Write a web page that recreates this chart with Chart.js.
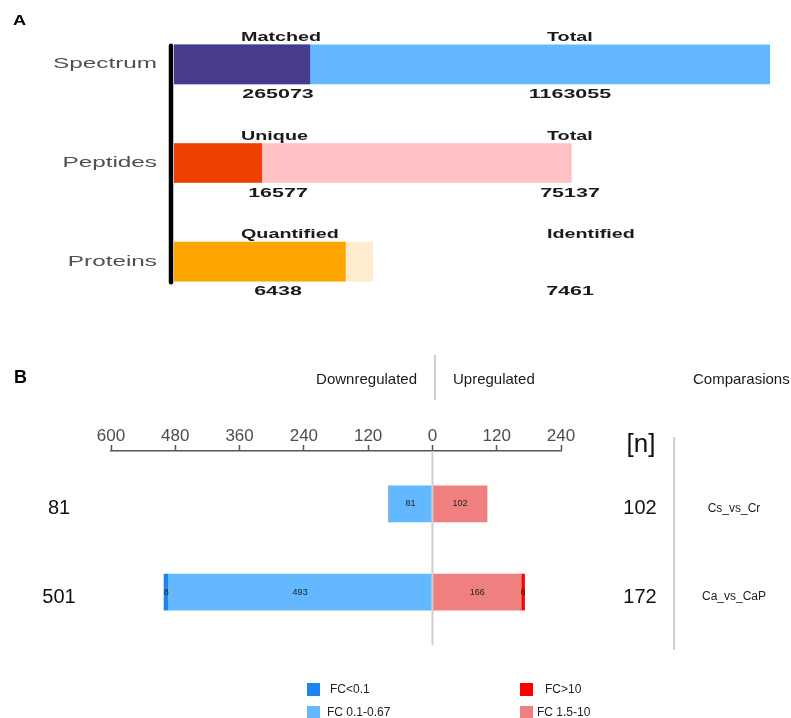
<!DOCTYPE html>
<html>
<head>
<meta charset="utf-8">
<script src="https://cdn.jsdelivr.net/npm/chart.js@4/dist/chart.umd.min.js"></script>
<style>
  html, body { margin: 0; padding: 0; background: #fff; }
  #page { position: relative; width: 791px; height: 718px; overflow: hidden; background: #fff; }
  #page canvas { position: absolute; left: 0; }
  #summary { top: 0; }
  #regulation { top: 320px; }
</style>
</head>
<body>
<div id="page">
  <canvas id="summary" width="791" height="320"></canvas>
  <canvas id="regulation" width="791" height="398"></canvas>
</div>
<script>
// ---- Panel A: identification summary ----
const summaryCategories = ['Spectrum', 'Peptides', 'Proteins'];
const subsetLabels = ['Matched', 'Unique', 'Quantified'];
const totalLabels = ['Total', 'Total', 'Identified'];
const subsetCounts = [265073, 16577, 6438];
const totalCounts = [1163055, 75137, 7461];

// ---- Panel B: differentially expressed proteins per comparison ----
const comparisons = ['Cs_vs_Cr', 'Ca_vs_CaP'];
const downStrong = [0, 8];        // FC<0.1
const downModerate = [81, 493];   // FC 0.1-0.67
const upModerate = [102, 166];    // FC 1.5-10
const upStrong = [0, 6];          // FC>10
const foldTicks = [-600, -480, -360, -240, -120, 0, 120, 240];

const FONT = '"Liberation Sans", Arial, Helvetica, sans-serif';

// each summary row gets its own scale; rows take 3 : 2 : 1 of the width
const rowWidthWeights = [3, 2, 1];
const subsetColors = ['#473C8B', '#EE4000', '#FFA500'];
const totalColors = ['#63B8FF', '#FFC1C1', '#FFEBCD'];

function stretchedText(ctx, text, x, y, font, color, sx, align, baseline) {
  ctx.save();
  ctx.font = font;
  ctx.fillStyle = color;
  ctx.textAlign = 'left';
  ctx.textBaseline = baseline || 'alphabetic';
  const w = ctx.measureText(text).width * sx;
  const left = align === 'center' ? x - w / 2 : (align === 'right' ? x - w : x);
  ctx.translate(left, y);
  ctx.scale(sx, 1);
  ctx.fillText(text, 0, 0);
  ctx.restore();
}

function plainText(ctx, text, x, y, font, color, align, baseline) {
  ctx.save();
  ctx.font = font;
  ctx.fillStyle = color;
  ctx.textAlign = align || 'left';
  ctx.textBaseline = baseline || 'alphabetic';
  ctx.fillText(text, x, y);
  ctx.restore();
}

// ---------- Panel A chart ----------
const summaryDatasets = [];
const summaryScales = {
  y: { type: 'category', display: false, grid: { display: false } }
};
summaryCategories.forEach((cat, i) => {
  const axisId = 'x' + i;
  summaryScales[axisId] = {
    type: 'linear', axis: 'x', display: false, min: 0,
    max: totalCounts[i] * rowWidthWeights[0] / rowWidthWeights[i]
  };
  summaryDatasets.push({
    label: subsetLabels[i],
    data: summaryCategories.map((_, j) => (j === i ? subsetCounts[i] : null)),
    xAxisID: axisId,
    backgroundColor: subsetColors[i],
    order: 0,
    grouped: false,
    barThickness: 39
  });
  summaryDatasets.push({
    label: totalLabels[i],
    data: summaryCategories.map((_, j) => (j === i ? totalCounts[i] : null)),
    xAxisID: axisId,
    backgroundColor: totalColors[i],
    order: 1,
    grouped: false,
    barThickness: 39
  });
});

const summaryDecor = {
  id: 'summaryDecor',
  afterDatasetsDraw(chart) {
    const ctx = chart.ctx;
    const yScale = chart.scales.y;
    let firstTop = null, lastBottom = null;

    summaryCategories.forEach((cat, i) => {
      const totalMeta = chart.getDatasetMeta(2 * i + 1);
      const bar = totalMeta.data[i];
      const p = bar.getProps(['y', 'height'], true);
      const top = p.y - p.height / 2;
      const bottom = p.y + p.height / 2;
      if (firstTop === null) firstTop = top;
      lastBottom = bottom;

      const cy = yScale.getPixelForValue(i);
      stretchedText(ctx, cat, 157, cy, '15px ' + FONT, '#505050', 1.62, 'right', 'middle');

      stretchedText(ctx, subsetLabels[i], 241, top - 4, 'bold 13px ' + FONT, '#1a1a1a', 1.52, 'left');
      stretchedText(ctx, totalLabels[i], 547, top - 4, 'bold 13px ' + FONT, '#1a1a1a', 1.52, 'left');

      stretchedText(ctx, String(subsetCounts[i]), 278, bottom + 14, 'bold 13px ' + FONT, '#1a1a1a', 1.65, 'center');
      stretchedText(ctx, String(totalCounts[i]), 570, bottom + 14, 'bold 13px ' + FONT, '#1a1a1a', 1.65, 'center');
    });

    // black baseline bracket left of the bars
    ctx.save();
    ctx.strokeStyle = '#000';
    ctx.lineWidth = 4.5;
    ctx.lineCap = 'round';
    ctx.beginPath();
    ctx.moveTo(171, firstTop + 1);
    ctx.lineTo(171, lastBottom + 1);
    ctx.stroke();
    ctx.restore();

    stretchedText(ctx, 'A', 13, 25, 'bold 14px ' + FONT, '#000', 1.3, 'left');
  }
};

new Chart(document.getElementById('summary'), {
  type: 'bar',
  data: { labels: summaryCategories, datasets: summaryDatasets },
  options: {
    indexAxis: 'y',
    responsive: false,
    animation: false,
    layout: { padding: { left: 174, right: 21, top: 15, bottom: 9 } },
    scales: summaryScales,
    plugins: { legend: { display: false }, tooltip: { enabled: false } }
  },
  plugins: [summaryDecor]
});

// ---------- Panel B chart ----------
const regulationSeries = [
  { label: 'FC 0.1-0.67', values: downModerate, sign: -1, color: '#63B8FF' },
  { label: 'FC<0.1', values: downStrong, sign: -1, color: '#1C86EE' },
  { label: 'FC 1.5-10', values: upModerate, sign: 1, color: '#F08080' },
  { label: 'FC>10', values: upStrong, sign: 1, color: '#FF0000' }
];

const regulationDatasets = regulationSeries.map(s => ({
  label: s.label,
  data: comparisons.map((c, i) => ({ x: s.sign * s.values[i], y: i })),
  backgroundColor: s.color,
  borderWidth: 0,
  barThickness: 36
}));

// legend grid: [label, square x, square y (page), text x]
const legendLayout = [
  ['FC<0.1', 307, 683, 330],
  ['FC>10', 520, 683, 545],
  ['FC 0.1-0.67', 307, 706, 327],
  ['FC 1.5-10', 520, 706, 537]
];

const regulationDecor = {
  id: 'regulationDecor',
  afterDatasetsDraw(chart) {
    const ctx = chart.ctx;
    const xScale = chart.scales.x;
    const yScale = chart.scales.y;
    const area = chart.chartArea;
    const off = 320;

    // zero line
    const x0 = xScale.getPixelForValue(0);
    ctx.save();
    ctx.strokeStyle = '#cfcfcf';
    ctx.lineWidth = 2;
    ctx.beginPath();
    ctx.moveTo(x0, area.top);
    ctx.lineTo(x0, area.bottom);
    ctx.stroke();
    // header separator
    ctx.beginPath();
    ctx.moveTo(435, 355 - off);
    ctx.lineTo(435, 400 - off);
    ctx.stroke();
    // column separator before comparison names
    ctx.beginPath();
    ctx.moveTo(674, 437 - off);
    ctx.lineTo(674, 650 - off);
    ctx.stroke();
    ctx.restore();

    // values inside each segment
    chart.data.datasets.forEach((ds, di) => {
      const meta = chart.getDatasetMeta(di);
      meta.data.forEach((bar, i) => {
        const v = Math.abs(ds.data[i].x);
        if (!v) return;
        const p = bar.getProps(['x', 'y', 'base'], true);
        plainText(ctx, String(v), (p.x + p.base) / 2, p.y, '9px ' + FONT, '#222', 'center', 'middle');
      });
    });

    // headers
    plainText(ctx, 'B', 14, 383 - off, 'bold 18px ' + FONT, '#000');
    plainText(ctx, 'Downregulated', 417, 384 - off, '15px ' + FONT, '#1a1a1a', 'right');
    plainText(ctx, 'Upregulated', 453, 384 - off, '15px ' + FONT, '#1a1a1a', 'left');
    plainText(ctx, 'Comparasions', 693, 384 - off, '15px ' + FONT, '#1a1a1a', 'left');
    plainText(ctx, '[n]', 641, 445 - off, '26px ' + FONT, '#111', 'center', 'middle');

    // per-comparison totals and names
    comparisons.forEach((name, i) => {
      const cy = yScale.getPixelForValue(i) + 5;
      const down = downStrong[i] + downModerate[i];
      const up = upStrong[i] + upModerate[i];
      plainText(ctx, String(down), 59, cy, '20px ' + FONT, '#111', 'center', 'middle');
      plainText(ctx, String(up), 640, cy, '20px ' + FONT, '#111', 'center', 'middle');
      plainText(ctx, name, 734, cy, '12px ' + FONT, '#222', 'center', 'middle');
    });

    // legend
    legendLayout.forEach(([label, sx, sy, tx]) => {
      const ds = chart.data.datasets.find(d => d.label === label);
      ctx.save();
      ctx.fillStyle = ds.backgroundColor;
      ctx.fillRect(sx, sy - off, 13, 13);
      ctx.restore();
      plainText(ctx, label, tx, sy - off + 6.5, '12px ' + FONT, '#222', 'left', 'middle');
    });
  }
};

new Chart(document.getElementById('regulation'), {
  type: 'bar',
  data: { datasets: regulationDatasets },
  options: {
    indexAxis: 'y',
    responsive: false,
    animation: false,
    layout: { padding: { left: 111, right: 230, top: 91, bottom: 73 } },
    scales: {
      x: {
        type: 'linear',
        position: 'top',
        min: -600,
        max: 240,
        stacked: true,
        afterBuildTicks: s => { s.ticks = foldTicks.map(v => ({ value: v })); },
        afterFit: s => { s.height = 40; },
        ticks: {
          callback: v => Math.abs(v),
          font: { family: FONT, size: 17 },
          color: '#4d4d4d',
          padding: -2,
          autoSkip: false,
          maxRotation: 0
        },
        grid: { drawOnChartArea: false, color: '#555', tickLength: 6, tickWidth: 1.5 },
        border: { display: true, color: '#555', width: 1.5 }
      },
      y: {
        type: 'linear',
        display: false,
        reverse: true,
        offset: false,
        min: -0.6,
        max: 1.6,
        stacked: true
      }
    },
    plugins: { legend: { display: false }, tooltip: { enabled: false } }
  },
  plugins: [regulationDecor]
});
</script>
</body>
</html>
